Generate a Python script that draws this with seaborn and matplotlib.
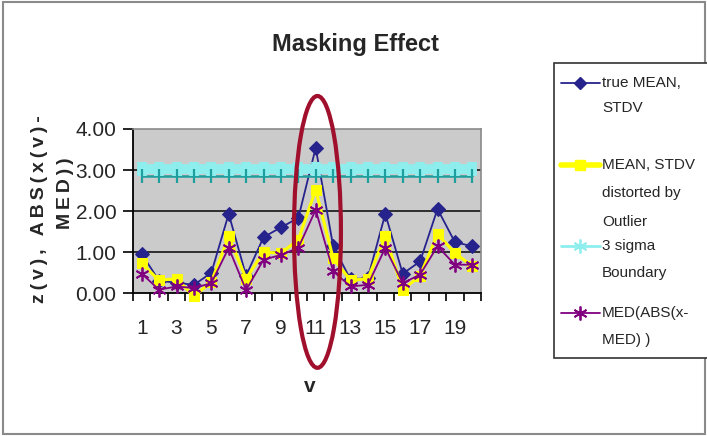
import matplotlib
matplotlib.use("Agg")
import matplotlib.pyplot as plt
import matplotlib.patheffects as pe
from matplotlib.lines import Line2D
from matplotlib.patches import Rectangle, Ellipse
import numpy as np
import pandas as pd
import seaborn as sns

# ---------------- data ----------------
v = list(range(1, 21))
true_mean_stdv = [0.95, 0.30, 0.25, 0.20, 0.49, 1.93, 0.42, 1.36, 1.60, 1.83,
                  3.54, 1.15, 0.33, 0.37, 1.93, 0.47, 0.77, 2.05, 1.24, 1.14]
distorted = [0.72, 0.31, 0.35, -0.08, 0.27, 1.38, 0.35, 1.00, 0.97, 1.30,
             2.52, 0.85, 0.31, 0.35, 1.38, 0.08, 0.42, 1.44, 0.97, 0.66]
sigma3 = [2.85, 2.85, 2.85, 2.85, 2.85, 2.85, 2.85, 2.85, 2.85, 2.85,
          2.85, 2.85, 2.85, 2.85, 2.85, 2.85, 2.85, 2.85, 2.85, 2.85]
med_abs = [0.47, 0.08, 0.16, 0.12, 0.24, 1.10, 0.07, 0.81, 0.93, 1.10,
           2.03, 0.53, 0.16, 0.20, 1.10, 0.24, 0.45, 1.14, 0.69, 0.69]
series_labels = [["true MEAN,", "STDV"],
                 ["MEAN, STDV", "distorted by", "Outlier"],
                 ["3 sigma", "Boundary"],
                 ["MED(ABS(x-", "MED) )"]]
y_ticks = [0, 1, 2, 3, 4]
x_ticklabels = [1, 3, 5, 7, 9, 11, 13, 15, 17, 19]
highlight_v = 11

df = pd.DataFrame({"v": v, "true": true_mean_stdv, "dist": distorted,
                   "sigma": sigma3, "med": med_abs})

# ---------------- style ----------------
sns.set_theme(style="white")
FONT = ["Liberation Sans", "DejaVu Sans"]
plt.rcParams["font.family"] = FONT

W, H = 707, 436
fig = plt.figure(figsize=(W / 100, H / 100), dpi=100)
fx = lambda px: px / W
fy = lambda py: 1 - py / H

ax = fig.add_axes([fx(133), fy(293), fx(481) - fx(133), fy(129) - fy(293)])
ax.set_facecolor("#cbcbcb")

C_BLUE = "#27238c"
C_YEL = "#ffff00"
C_TEAL = "#1f9e9e"
C_CYAN = "#8eeeee"
C_PURP = "#800080"
ASTER = (6, 2, 0)

sns.lineplot(data=df, x="v", y="true", ax=ax, color=C_BLUE, lw=1.3,
             marker="D", markersize=7.5, markeredgecolor=C_BLUE, legend=False,
             clip_on=False, zorder=3)
sns.lineplot(data=df, x="v", y="dist", ax=ax, color=C_YEL, lw=2.2,
             marker="s", markersize=7, markeredgecolor=C_YEL, legend=False,
             clip_on=False, zorder=4)
sns.lineplot(data=df, x="v", y="sigma", ax=ax, color=C_TEAL, lw=1.8,
             marker="|", markersize=10, markeredgewidth=1.6,
             markeredgecolor=C_TEAL, legend=False, zorder=5,
             path_effects=[pe.SimpleLineShadow(offset=(0, 5), shadow_color=C_CYAN,
                                               alpha=1.0, rho=1.0, linewidth=7),
                           pe.Normal()])
sns.lineplot(data=df, x="v", y="med", ax=ax, color=C_PURP, lw=1.3,
             marker=ASTER, markersize=10, markeredgewidth=1.3,
             markeredgecolor=C_PURP, legend=False, clip_on=False, zorder=6)

ax.set_xlim(0.5, 20.5)
ax.set_ylim(0, 4)
ax.set_yticks(y_ticks)
ax.set_yticklabels([f"{t:.2f}" for t in y_ticks], fontsize=15)
ax.set_xticks(np.arange(0.5, 21.0, 1.0))
ax.set_xticklabels([])
ax.set_xticks(x_ticklabels, minor=True)
ax.set_xticklabels([str(t) for t in x_ticklabels], minor=True, fontsize=15)
ax.tick_params(axis="x", which="major", direction="out", length=6, width=1.2,
               color="black", bottom=True)
ax.tick_params(axis="x", which="minor", length=0, pad=19)
ax.tick_params(axis="y", direction="out", length=7, width=1.2, color="black",
               pad=5, left=True)
ax.set_xlabel("")
ax.set_ylabel("")
for yv in y_ticks[1:-1]:
    ax.axhline(yv, color="#222222", lw=1.3, zorder=1)
for s in ["top", "right"]:
    ax.spines[s].set_color("#8a8a8a")
    ax.spines[s].set_linewidth(1.2)
for s in ["left", "bottom"]:
    ax.spines[s].set_color("black")
    ax.spines[s].set_linewidth(1.3)

# highlight ellipse around the outlier point
ax.add_patch(Ellipse((highlight_v + 0.1, 1.49), width=2.7, height=6.63,
                     fill=False, edgecolor="#a0102c", lw=3, clip_on=False,
                     zorder=8))

# title / axis labels
fig.text(fx(356), fy(44), "Masking Effect", ha="center", va="center",
         fontsize=17, fontweight="bold")
fig.text(fx(310), fy(387), "v", ha="center", va="center", fontsize=15,
         fontweight="bold")
sp = "\u2009"
fig.text(fx(40), fy(209), sp.join("z(v), ABS(x(v)-"), rotation=90,
         ha="center", va="center", fontsize=14, fontweight="bold")
fig.text(fx(65), fy(193), sp.join("MED))"), rotation=90,
         ha="center", va="center", fontsize=14, fontweight="bold")

# outer frame
fig.add_artist(Rectangle((fx(3), fy(434)), fx(705) - fx(3), fy(2) - fy(434),
                         transform=fig.transFigure, fill=False,
                         edgecolor="#8a8a8a", lw=1.5))

# legend (manual, Excel-like)
fig.add_artist(Rectangle((fx(554), fy(358)), fx(720) - fx(554), fy(63) - fy(358),
                         transform=fig.transFigure, fill=True, facecolor="white",
                         edgecolor="#333333", lw=1.2, clip_on=False))
leg_style = [
    dict(color=C_BLUE, lw=1.3, marker="D", ms=6, mew=1),
    dict(color=C_YEL, lw=4, marker="s", ms=7, mew=1),
    dict(color=C_CYAN, lw=2, marker=ASTER, ms=10, mew=1.3),
    dict(color=C_PURP, lw=1.3, marker=ASTER, ms=10, mew=1.3),
]
leg_rows = [[83, 108], [165, 193, 222], [246, 273], [313, 340]]
for lines, rows, st in zip(series_labels, leg_rows, leg_style):
    yh = rows[0]
    fig.add_artist(Line2D([fx(561), fx(600)], [fy(yh), fy(yh)],
                          transform=fig.transFigure, color=st["color"],
                          lw=st["lw"]))
    fig.add_artist(Line2D([fx(580)], [fy(yh)], transform=fig.transFigure,
                          linestyle="none", marker=st["marker"], ms=st["ms"],
                          mec=st["color"], mfc=st["color"], mew=st["mew"]))
    for txt, yy in zip(lines, rows):
        fig.text(fx(602), fy(yy), txt, ha="left", va="center", fontsize=11)

fig.savefig("out.png", dpi=100)
